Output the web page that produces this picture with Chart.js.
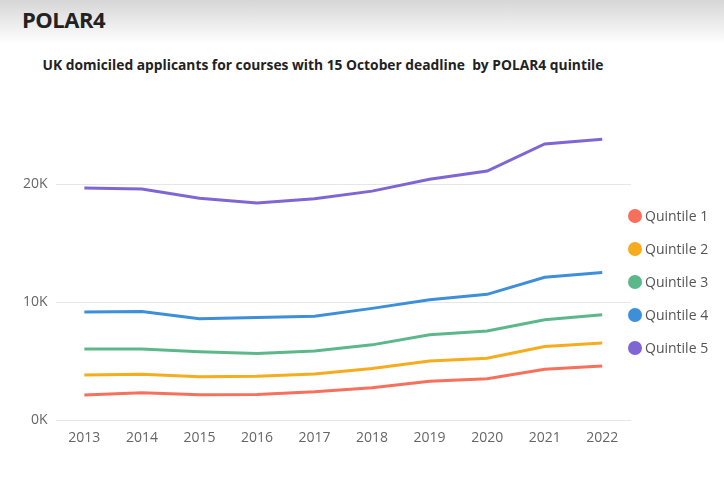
<!DOCTYPE html>
<html>
<head>
<meta charset="utf-8">
<script src="https://cdn.jsdelivr.net/npm/chart.js@4"></script>
<style>
  body { margin:0; width:724px; height:484px; background:#fff; font-family:"Open Sans", sans-serif; overflow:hidden; }
  #header { height:44px; background:linear-gradient(#d6d6d6, #ffffff); position:relative; }
  #header h1 { margin:0; position:absolute; left:22px; top:4px; font-size:22px; font-weight:700; color:#222; letter-spacing:-0.5px; }
  #title { position:absolute; left:0; width:646px; top:55px; text-align:center; font-size:13.8px; font-weight:700; color:#222; }
  #wrap { position:absolute; left:0; top:84px; width:724px; height:396px; }
  #legend { position:absolute; left:628px; top:207px; }
  .item { height:33px; display:flex; align-items:flex-start; font-size:14px; color:#555; line-height:18px; }
  .dot { width:14px; height:14px; border-radius:50%; margin-top:2px; margin-right:3px; }
</style>
</head>
<body>
<div id="header"><h1>POLAR4</h1></div>
<div id="title">UK domiciled applicants for courses with 15 October deadline&nbsp; by POLAR4 quintile</div>
<div id="wrap"><canvas id="chartCanvas"></canvas></div>
<div id="legend"></div>
<script>
const years = ["2013","2014","2015","2016","2017","2018","2019","2020","2021","2022"]

const quintile1 = [2130, 2320, 2150, 2180, 2410, 2750, 3290, 3520, 4310, 4600]
const quintile2 = [3830, 3890, 3690, 3720, 3910, 4370, 5020, 5250, 6240, 6530]
const quintile3 = [6040, 6040, 5790, 5640, 5870, 6380, 7230, 7550, 8510, 8940]
const quintile4 = [9170, 9200, 8600, 8700, 8800, 9470, 10200, 10660, 12100, 12500]
const quintile5 = [19660, 19570, 18800, 18400, 18750, 19400, 20400, 21100, 23400, 23800]

const yTicks = [0, 10000, 20000]

const seriesNames = ["Quintile 1","Quintile 2","Quintile 3","Quintile 4","Quintile 5"]
const seriesColors = ["#f7705c","#f6ac1d","#5cb88a","#3d8fd9","#7f66d4"]

const allSeries = [quintile1, quintile2, quintile3, quintile4, quintile5]

const ctx = document.getElementById("chartCanvas")

new Chart(ctx,{
    type:"line",
    data:{
        labels:years,
        datasets:allSeries.map((vals,i) => ({
            label:seriesNames[i],
            data:vals,
            borderColor:seriesColors[i],
            backgroundColor:seriesColors[i],
            borderWidth:3,
            pointRadius:0,
            tension:0
        }))
    },
    options:{
        responsive:true,
        maintainAspectRatio:false,
        animation:false,
        layout:{ padding:{ left:15, top:41, right:93, bottom:33 } },
        plugins:{
            legend:{ display:false },
            tooltip:{ enabled:false }
        },
        scales:{
            x:{
                offset:true,
                grid:{ display:false },
                border:{ display:false },
                ticks:{ color:"#666", font:{ family:"Open Sans", size:14 }, padding:1 }
            },
            y:{
                min:0,
                max:25000,
                afterBuildTicks: scale => {
                    scale.ticks = yTicks.map(v => ({ value:v }))
                },
                ticks:{
                    color:"#666",
                    padding:8,
                    font:{ family:"Open Sans", size:14 },
                    callback: v => (v/1000) + "K"
                },
                grid:{ color:"#e6e6e6", drawTicks:false },
                border:{ display:false }
            }
        }
    }
})

// legend drawn as html so the spacing can match
const legendBox = document.getElementById("legend")
seriesNames.forEach((name,i) => {
    const row = document.createElement("div")
    row.className = "item"
    row.innerHTML = '<span class="dot" style="background:' + seriesColors[i] + '"></span>' + name
    legendBox.appendChild(row)
})
</script>
</body>
</html>
